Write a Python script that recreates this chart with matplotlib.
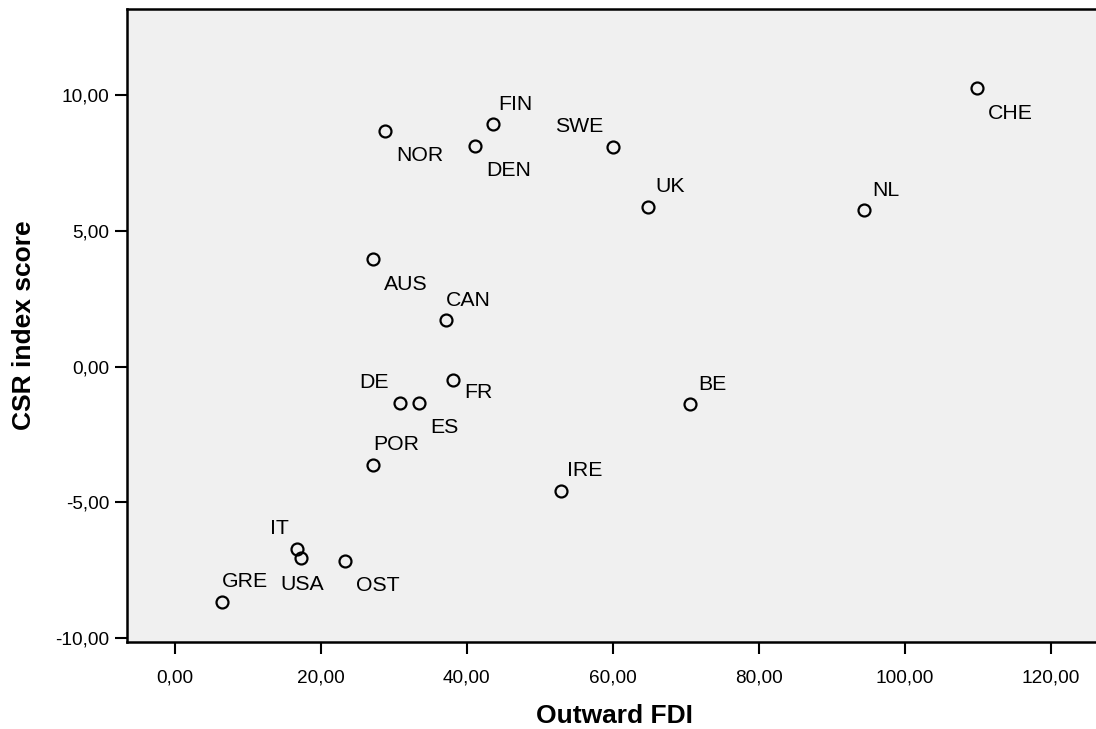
import matplotlib
matplotlib.use("Agg")
import matplotlib.pyplot as plt

# country codes with outward FDI and CSR index score
countries = ["NOR", "FIN", "DEN", "SWE", "UK", "AUS", "CAN", "FR", "DE", "ES",
             "POR", "IRE", "BE", "IT", "USA", "OST", "GRE", "CHE", "NL"]
fdi = [28.8, 43.56, 41.14, 60.08, 64.88, 27.12, 37.16, 38.16, 30.86, 33.51,
       27.21, 52.92, 70.63, 16.71, 17.26, 23.33, 6.44, 109.86, 94.47]
csr = [8.69, 8.93, 8.14, 8.07, 5.89, 3.97, 1.72, -0.49, -1.33, -1.33,
       -3.63, -4.57, -1.38, -6.73, -7.03, -7.15, -8.66, 10.25, 5.77]

x_ticks = [0, 20, 40, 60, 80, 100, 120]
x_tick_labels = ["0,00", "20,00", "40,00", "60,00", "80,00", "100,00", "120,00"]
y_ticks = [-10, -5, 0, 5, 10]
y_tick_labels = ["-10,00", "-5,00", "0,00", "5,00", "10,00"]

# label placement (pixel offset from marker, alignment), SPSS-style
label_pos = {
    "NOR": (11, -30, "left"), "FIN": (6, 14, "left"), "DEN": (11, -30, "left"),
    "SWE": (-10, 15, "right"), "UK": (7, 15, "left"), "AUS": (11, -31, "left"),
    "CAN": (0, 14, "left"), "FR": (11, -18, "left"), "DE": (-11, 15, "right"),
    "ES": (11, -30, "left"), "POR": (0, 15, "left"), "IRE": (6, 15, "left"),
    "BE": (8, 14, "left"), "IT": (-8, 15, "right"), "USA": (1, -32, "center"),
    "OST": (11, -30, "left"), "GRE": (0, 15, "left"), "CHE": (11, -31, "left"),
    "NL": (8, 14, "left"),
}

plt.rcParams["font.family"] = ["Liberation Sans", "DejaVu Sans"]

fig = plt.figure(figsize=(10.96, 7.29), dpi=100)
ax = fig.add_axes([0.1156, 0.1193, 0.8897, 0.8680])
ax.set_facecolor("#f0f0f0")

ax.plot(fdi, csr, linestyle="none", marker="o", markersize=8.6,
        markerfacecolor="none", markeredgecolor="black", markeredgewidth=1.6,
        zorder=3)

for name, x, y in zip(countries, fdi, csr):
    dx, dy, ha = label_pos[name]
    ax.annotate(name, (x, y), xytext=(dx, dy), textcoords="offset pixels",
                ha=ha, va="baseline", fontsize=15.3, color="black")

ax.set_xlim(-6.58, 127)
ax.set_ylim(-10.14, 13.16)
ax.set_xticks(x_ticks)
ax.set_xticklabels(x_tick_labels)
ax.set_yticks(y_ticks)
ax.set_yticklabels(y_tick_labels)
ax.tick_params(axis="both", length=8.6, width=1.5, labelsize=13.7, color="black")
ax.tick_params(axis="x", pad=11)
ax.tick_params(axis="y", pad=4)

for side in ["left", "bottom", "top", "right"]:
    ax.spines[side].set_linewidth(1.8)

ax.set_xlabel("Outward FDI", fontsize=19, fontweight="bold", labelpad=13)
ax.set_ylabel("CSR index score", fontsize=19, fontweight="bold", labelpad=14)

fig.savefig("out.png", dpi=100)
